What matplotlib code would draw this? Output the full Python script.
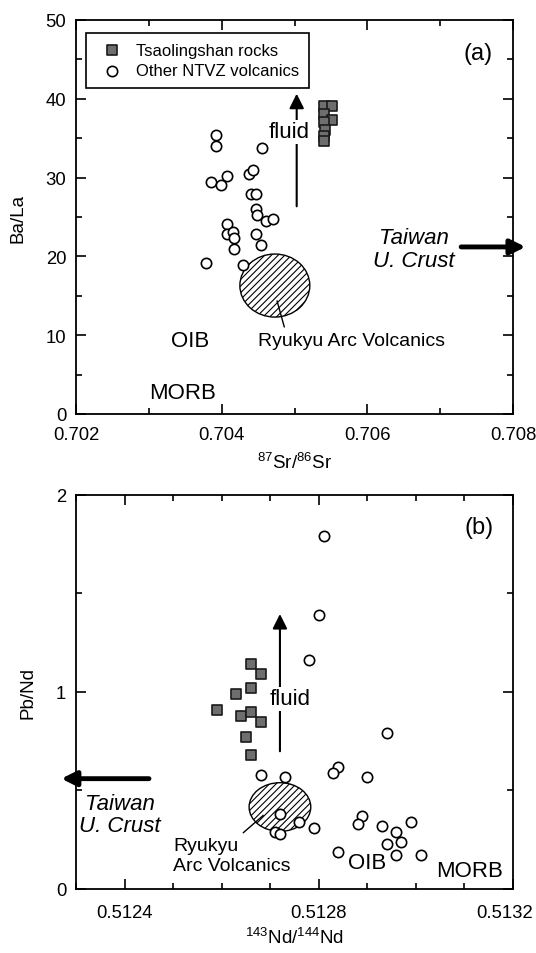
import matplotlib as mpl
mpl.use("Agg")
import matplotlib.pyplot as plt
import matplotlib.transforms as mtransforms
from matplotlib.patches import Ellipse
from matplotlib.ticker import MultipleLocator, FormatStrFormatter

mpl.rcParams.update({
    'font.family': 'Liberation Sans',
    'font.size': 13,
    'mathtext.default': 'regular',
    'hatch.linewidth': 0.8,
    'axes.linewidth': 1.3,
})

# panel (a): 87Sr/86Sr vs Ba/La
sr_tsao = [0.70540, 0.70551, 0.70541, 0.70551, 0.70540, 0.70542, 0.70541, 0.70540]
bala_tsao = [39.1, 39.1, 38.1, 37.3, 37.0, 36.0, 35.3, 34.7]
sr_other = [0.70392, 0.70392, 0.70456, 0.70385, 0.70399, 0.70408, 0.70438, 0.70443,
            0.70440, 0.70447, 0.70447, 0.70449, 0.70461, 0.70471, 0.70408, 0.70407,
            0.70415, 0.70417, 0.70417, 0.70447, 0.70454, 0.70378, 0.70429]
bala_other = [35.4, 34.0, 33.7, 29.4, 29.1, 30.2, 30.5, 31.0, 27.9, 27.9, 26.0, 25.2,
              24.5, 24.7, 24.1, 22.8, 23.1, 22.3, 21.0, 22.8, 21.4, 19.1, 18.9]

# panel (b): 143Nd/144Nd vs Pb/Nd
nd_tsao = [0.51266, 0.51268, 0.51266, 0.51263, 0.51259, 0.51264, 0.51266, 0.51268,
           0.51265, 0.51266]
pbnd_tsao = [1.14, 1.09, 1.02, 0.99, 0.91, 0.88, 0.90, 0.85, 0.77, 0.68]
nd_other = [0.51281, 0.51280, 0.51278, 0.51294, 0.51268, 0.51273, 0.51284, 0.51283,
            0.51290, 0.51272, 0.51276, 0.51279, 0.51271, 0.51272, 0.51289, 0.51288,
            0.51293, 0.51299, 0.51296, 0.51297, 0.51294, 0.51284, 0.51296, 0.51301]
pbnd_other = [1.79, 1.39, 1.16, 0.79, 0.58, 0.57, 0.62, 0.59, 0.57, 0.38, 0.34, 0.31,
              0.29, 0.28, 0.37, 0.33, 0.32, 0.34, 0.29, 0.24, 0.23, 0.19, 0.17, 0.17]

SQ = dict(marker='s', s=52, c='#6e6e6e', edgecolors='#1a1a1a', linewidths=1.2, zorder=4)
CI = dict(marker='o', s=55, c='white', edgecolors='black', linewidths=1.2, zorder=5)
BIG = 16


def style_axes(ax):
    ax.tick_params(which='both', direction='in', top=True, right=True, width=1.2)
    ax.tick_params(which='major', length=7, pad=7, labelsize=13.3)
    ax.tick_params(which='minor', length=4)


fig = plt.figure(figsize=(5.36, 9.54), dpi=100, facecolor='white')

# ---------------- (a) ----------------
ax1 = fig.add_axes([0.1418, 0.565, 0.8153, 0.413])
ax1.set_xlim(0.702, 0.708)
ax1.set_ylim(0, 50)
ax1.xaxis.set_major_locator(MultipleLocator(0.002))
ax1.xaxis.set_minor_locator(MultipleLocator(0.001))
ax1.xaxis.set_major_formatter(FormatStrFormatter('%.3f'))
ax1.yaxis.set_major_locator(MultipleLocator(10))
ax1.yaxis.set_minor_locator(MultipleLocator(5))
style_axes(ax1)
ax1.tick_params(axis='x', which='major', pad=9)

ax1.add_patch(Ellipse((0.70473, 16.3), 0.00096, 8.0, facecolor='white',
                      edgecolor='black', lw=1.0, hatch='/////', zorder=2))
ax1.scatter(sr_tsao, bala_tsao, label='Tsaolingshan rocks', **SQ)
ax1.scatter(sr_other, bala_other, label='Other NTVZ volcanics', **CI)

ax1.annotate('', xy=(0.70503, 41.0), xytext=(0.70503, 26.0),
             arrowprops=dict(arrowstyle='-|>', lw=1.5, color='black', mutation_scale=22))
ax1.text(0.70492, 35.8, 'fluid', fontsize=BIG, ha='center', va='center',
         bbox=dict(facecolor='white', edgecolor='none', pad=1), zorder=3)
ax1.annotate('', xy=(0.70475, 14.7), xytext=(0.70487, 10.7),
             arrowprops=dict(arrowstyle='-', lw=1.0, color='black'))
ax1.text(0.70450, 9.3, 'Ryukyu Arc Volcanics', fontsize=14, ha='left', va='center')
ax1.text(0.70357, 9.3, 'OIB', fontsize=BIG, ha='center', va='center')
ax1.text(0.70346, 2.7, 'MORB', fontsize=BIG, ha='center', va='center')
ax1.text(0.70752, 45.8, '(a)', fontsize=17, ha='center', va='center')
ax1.text(0.70664, 20.9, 'Taiwan\nU. Crust', fontsize=BIG, style='italic',
         ha='center', va='center', linespacing=1.1)
ax1.annotate('', xy=(0.70821, 21.2), xytext=(0.70725, 21.2), annotation_clip=False,
             arrowprops=dict(arrowstyle='-|>', lw=3.5, color='black', mutation_scale=22))

leg = ax1.legend(loc='upper left', bbox_to_anchor=(0.022, 0.968), borderaxespad=0,
                 fontsize=12, fancybox=False, edgecolor='black', framealpha=1,
                 handletextpad=0.4, labelspacing=0.35, borderpad=0.6)
leg.get_frame().set_linewidth(1.2)

ax1.set_ylabel('Ba/La', fontsize=13.5, labelpad=14)
ax1.set_xlabel(r'$^{87}$Sr/$^{86}$Sr', fontsize=13.5, labelpad=6)

# ---------------- (b) ----------------
ax2 = fig.add_axes([0.1418, 0.0671, 0.8153, 0.413])
ax2.set_xlim(0.5123, 0.5132)
ax2.set_ylim(0, 2)
ax2.xaxis.set_major_locator(MultipleLocator(0.0004))
ax2.xaxis.set_minor_locator(MultipleLocator(0.0001))
ax2.xaxis.set_major_formatter(FormatStrFormatter('%.4f'))
ax2.yaxis.set_major_locator(MultipleLocator(1))
ax2.yaxis.set_minor_locator(MultipleLocator(0.5))
style_axes(ax2)
ax2.tick_params(axis='x', which='major', pad=11)

ax2.add_patch(Ellipse((0.51272, 0.416), 0.000127, 0.247, facecolor='white',
                      edgecolor='black', lw=1.0, hatch='/////', zorder=2))
ax2.scatter(nd_tsao, pbnd_tsao, **SQ)
ax2.scatter(nd_other, pbnd_other, **CI)

ax2.annotate('', xy=(0.51272, 1.41), xytext=(0.51272, 0.685),
             arrowprops=dict(arrowstyle='-|>', lw=1.5, color='black', mutation_scale=22))
ax2.text(0.51274, 0.966, 'fluid', fontsize=BIG, ha='center', va='center',
         bbox=dict(facecolor='white', edgecolor='none', pad=1), zorder=3)
ax2.annotate('', xy=(0.51269, 0.383), xytext=(0.51264, 0.276),
             arrowprops=dict(arrowstyle='-', lw=1.0, color='black'))
ax2.text(0.51250, 0.17, 'Ryukyu\nArc Volcanics', fontsize=14, ha='left', va='center',
         linespacing=1.25)
ax2.text(0.51290, 0.134, 'OIB', fontsize=BIG, ha='center', va='center', zorder=6)
ax2.text(0.51311, 0.092, 'MORB', fontsize=BIG, ha='center', va='center')
ax2.text(0.51313, 1.84, '(b)', fontsize=17, ha='center', va='center')
ax2.text(0.51239, 0.378, 'Taiwan\nU. Crust', fontsize=BIG, style='italic',
         ha='center', va='center', linespacing=1.1)
ax2.annotate('', xy=(0.512264, 0.56), xytext=(0.512456, 0.56), annotation_clip=False,
             arrowprops=dict(arrowstyle='-|>', lw=3.5, color='black', mutation_scale=22))

ax2.set_ylabel('Pb/Nd', fontsize=13.5, labelpad=14)
ax2.set_xlabel(r'$^{143}$Nd/$^{144}$Nd', fontsize=13.5, labelpad=4)

# keep the last Nd tick label inside the figure
fig.canvas.draw()
shift = mtransforms.ScaledTranslation(-8 / 100, 0, fig.dpi_scale_trans)
for lbl in ax2.get_xticklabels():
    if lbl.get_text() == '0.5132':
        lbl.set_transform(lbl.get_transform() + shift)

fig.savefig('out.png', dpi=100, facecolor='white')
